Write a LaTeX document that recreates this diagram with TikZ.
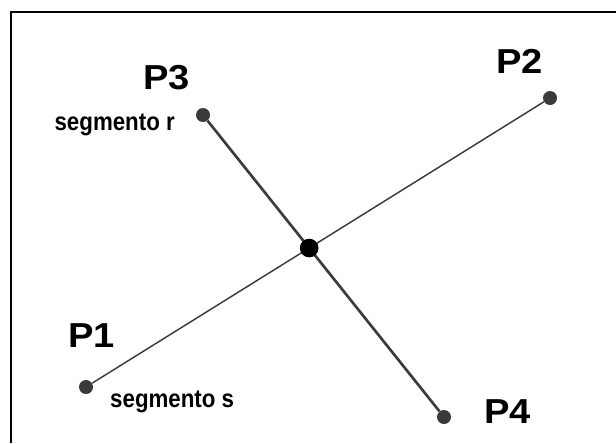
\documentclass[tikz,border=0pt]{standalone}
\usepackage{fontspec}
\setmainfont{Liberation Sans}
\usetikzlibrary{positioning}
\definecolor{dotgray}{HTML}{3A3A3A}
\definecolor{linegray}{HTML}{3C3C3C}

\begin{document}
\begin{tikzpicture}[x=0.75pt,y=-0.75pt,
    dot/.style={circle,fill=dotgray,inner sep=0pt,minimum size=10.5pt},
    ptlabel/.style={anchor=base west,inner sep=0pt,font=\bfseries\fontsize{26}{28}\selectfont,xscale=1.1},
    seglabel/.style={inner sep=0pt,font=\bfseries\fontsize{19}{21}\selectfont,xscale=0.88}]
  \useasboundingbox (0,0) rectangle (616,443);
  \draw[line width=1.5pt] (11,443) -- (11,12) -- (616,12);
  \foreach \n/\x/\y in {p1/86/387,p2/550/98,p3/203/115,p4/444/417}
    \node[dot] (\n) at (\x,\y) {};
  \draw[linegray,line width=1.1pt] (p1) -- (p2);
  \draw[linegray,line width=2pt] (p3) -- (p4);
  \node[dot,fill=black,minimum size=14pt] (c) at (intersection of p1--p2 and p3--p4) {};
  \foreach \n/\x/\y/\t in {lp1/68/347/P1,lp2/496/73/P2,lp3/143/89/P3,lp4/484/423/P4}
    \node[ptlabel] (\n) at (\x,\y) {\t};
  \node[seglabel,anchor=base east] (segr) at (175,130) {segmento r};
  \node[seglabel,anchor=base west] (segs) at (110,407) {segmento s};
\end{tikzpicture}
\end{document}
